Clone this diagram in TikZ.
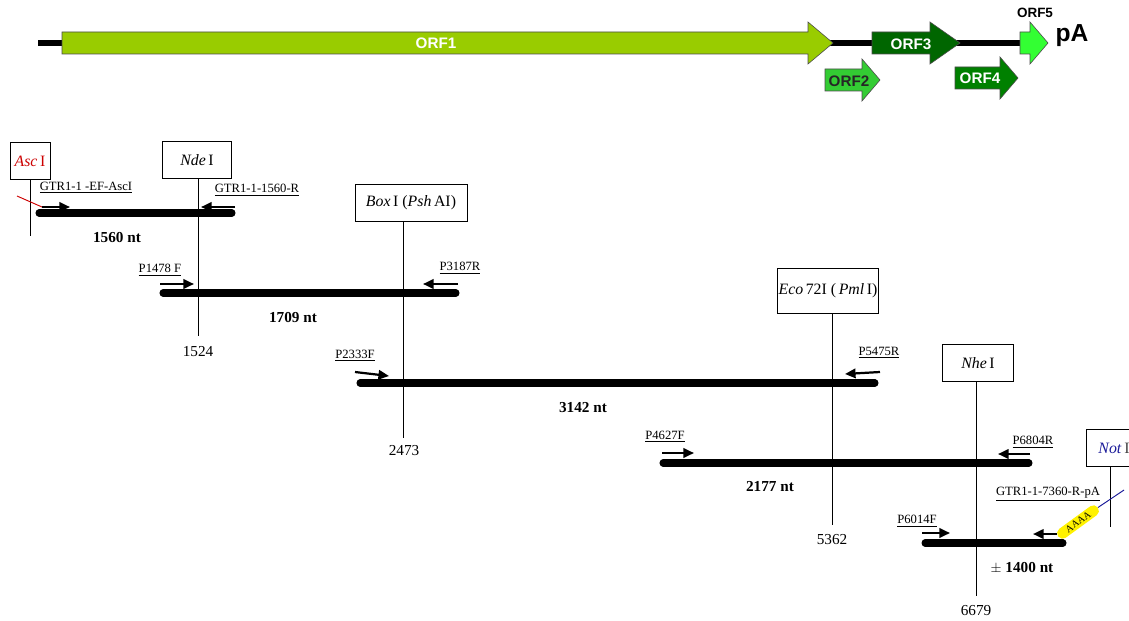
\documentclass[tikz,border=0pt]{standalone}
\usepackage{fontspec}
\setmainfont{Liberation Serif}
\newfontfamily\orffont{Liberation Sans}
\usepackage{tikz}
\usepackage{xcolor}
\usetikzlibrary{arrows.meta,positioning}

\definecolor{orfone}{HTML}{99CC00}
\definecolor{orftwo}{HTML}{33CC33}
\definecolor{orfthree}{HTML}{006600}
\definecolor{orffour}{HTML}{008000}
\definecolor{orffive}{HTML}{33FF33}
\definecolor{ascred}{HTML}{CC0000}
\definecolor{notblue}{HTML}{1A1A99}

\tikzset{
  orf/.style={draw=black!70, line width=0.5pt},
  orftext/.style={font=\orffont\bfseries\fontsize{13}{15}\selectfont, text=white, inner sep=0pt},
  fragment/.style={line width=6pt, line cap=round},
  primer/.style={line width=1.9pt, -{Triangle[length=9pt,width=8pt]}},
  primername/.style={font=\fontsize{10.8}{12}\selectfont, inner sep=0pt},
  site/.style={draw, line width=0.8pt, minimum height=1.1cm, inner sep=0pt,
               font=\fontsize{13.5}{15}\selectfont},
  cut/.style={line width=0.8pt},
  position/.style={font=\fontsize{13}{15}\selectfont, inner sep=0pt},
  size/.style={font=\bfseries\fontsize{13}{15}\selectfont, inner sep=0pt},
}

% body from #1 to #2, head to tip #3, centred on #4, filled with #5
\newcommand{\orfarrow}[5]{%
  \draw[orf, fill=#5] (#1,#4-11) -- (#2,#4-11) -- (#2,#4-21) -- (#3,#4)
    -- (#2,#4+21) -- (#2,#4+11) -- (#1,#4+11) -- cycle;}

\begin{document}
\begin{tikzpicture}[x=0.03cm, y=-0.03cm]
    \clip (0,0) rectangle (1129,620);

    % Genome organisation
    \draw[line width=5pt] (38,43) -- (1035,43);
    \orfarrow{62}{808}{833}{43}{orfone}
    \orfarrow{872}{930}{960}{43}{orfthree}
    \orfarrow{1020}{1030}{1048}{43}{orffive}
    \orfarrow{825}{862}{880}{80}{orftwo}
    \orfarrow{955}{1000}{1018}{78}{orffour}
    \node[orftext] (orf1) at (436,43) {ORF1};
    \node[orftext] (orf3) at (911,44) {ORF3};
    \node[orftext, text=black!85] (orf2) at (849,81) {ORF2};
    \node[orftext] (orf4) at (980,78) {ORF4};
    \node[orftext, text=black, font=\orffont\bfseries\fontsize{11.5}{13}\selectfont] (orf5) at (1035,13) {ORF5};
    \node[font=\orffont\bfseries\fontsize{21}{24}\selectfont, inner sep=0pt] (pa) at (1072,36) {pA};

    % Restriction sites
    \node[site, minimum width=1.2cm, text=ascred] (asc) at (30,161) {\textit{Asc}\,I};
    \node[site, minimum width=2.07cm] (nde) at (197,160) {\textit{Nde}\,I};
    \node[site, minimum width=3.36cm] (box) at (411,203) {\textit{Box}\,I (\textit{Psh}\,AI)};
    \node[site, minimum width=3.03cm, minimum height=1.33cm] (eco) at (828,291) {\textit{Eco}\,72I (\,\textit{Pml}\,I)};
    \node[site, minimum width=2.13cm] (nhe) at (978,363) {\textit{Nhe}\,I};
    \node[site, anchor=west, inner xsep=0.36cm] (not) at (1086,448) {\textcolor{notblue}{\textit{Not}}\,\textcolor{black!75}{I}};

    \coordinate (asc end) at (30,236);
    \coordinate (nde end) at (198,336);
    \coordinate (box end) at (403,438);
    \coordinate (eco end) at (832,525);
    \coordinate (nhe end) at (976,596);
    \coordinate (not end) at (1110,527);
    \draw[cut] (asc end |- asc.south) -- (asc end);
    \draw[cut] (nde end |- nde.south) -- (nde end);
    \draw[cut] (box end |- box.south) -- (box end);
    \draw[cut] (eco end |- eco.south) -- (eco end);
    \draw[cut] (nhe end |- nhe.south) -- (nhe end);
    \draw[cut] (not end |- not.south) -- (not end);

    \node[position] (p1524) at (198,352) {1524};
    \node[position] (p2473) at (404,451) {2473};
    \node[position] (p5362) at (832,540) {5362};
    \node[position] (p6679) at (976,611) {6679};

    % Fragment 1
    \draw[fragment] (39,213) -- (232,213);
    \draw[ascred, line width=0.8pt] (17,196) -- (42,207);
    \draw[primer] (42,207) -- (70,207);
    \draw[primer] (235,207) -- (201,207);
    \node[primername] (gtrf) at (86,188) {\underline{GTR1-1 -EF-AscI}};
    \node[primername] (gtrr) at (257,190) {\underline{GTR1-1-1560-R}};
    \node[size] (s1560) at (117,238) {1560 nt};

    % Fragment 2
    \draw[fragment] (163,293) -- (456,293);
    \draw[primer] (160,284) -- (194,284);
    \draw[primer] (458,284) -- (423,284);
    \node[primername] (p1478) at (160,270) {\underline{P1478 F}};
    \node[primername] (p3187) at (460,268) {\underline{P3187R}};
    \node[size] (s1709) at (293,318) {1709 nt};

    % Fragment 3
    \draw[fragment] (360,383) -- (875,383);
    \draw[primer] (355,372) -- (389,376);
    \draw[primer] (880,372) -- (845,374);
    \node[primername] (p2333) at (355,356) {\underline{P2333F}};
    \node[primername] (p5475) at (879,353) {\underline{P5475R}};
    \node[size] (s3142) at (583,408) {3142 nt};

    % Fragment 4
    \draw[fragment] (663,463) -- (1029,463);
    \draw[primer] (662,453) -- (694,453);
    \draw[primer] (1030,454) -- (998,454);
    \node[primername] (p4627) at (665,437) {\underline{P4627F}};
    \node[primername] (p6804) at (1033,442) {\underline{P6804R}};
    \node[size] (s2177) at (770,487) {2177 nt};

    % Fragment 5
    \draw[fragment] (925,543) -- (1063,543);
    \draw[primer] (922,533) -- (950,533);
    \draw[primer] (1057,534) -- (1033,534);
    \node[fill=yellow, rounded corners=0.16cm, minimum width=1.47cm, minimum height=0.33cm,
          inner sep=0pt, rotate=36, font=\fontsize{8.5}{9}\selectfont] (polya) at (1078,522) {AAAA};
    \draw[notblue, line width=0.8pt] (polya.east) -- (1124,490);
    \node[primername] (gtrpa) at (1048,494) {\underline{GTR1-1-7360-R-pA}};
    \node[primername] (p6014) at (917,521) {\underline{P6014F}};
    \node[size] (s1400) at (1022,568) {$\pm$ 1400 nt};
\end{tikzpicture}
\end{document}
